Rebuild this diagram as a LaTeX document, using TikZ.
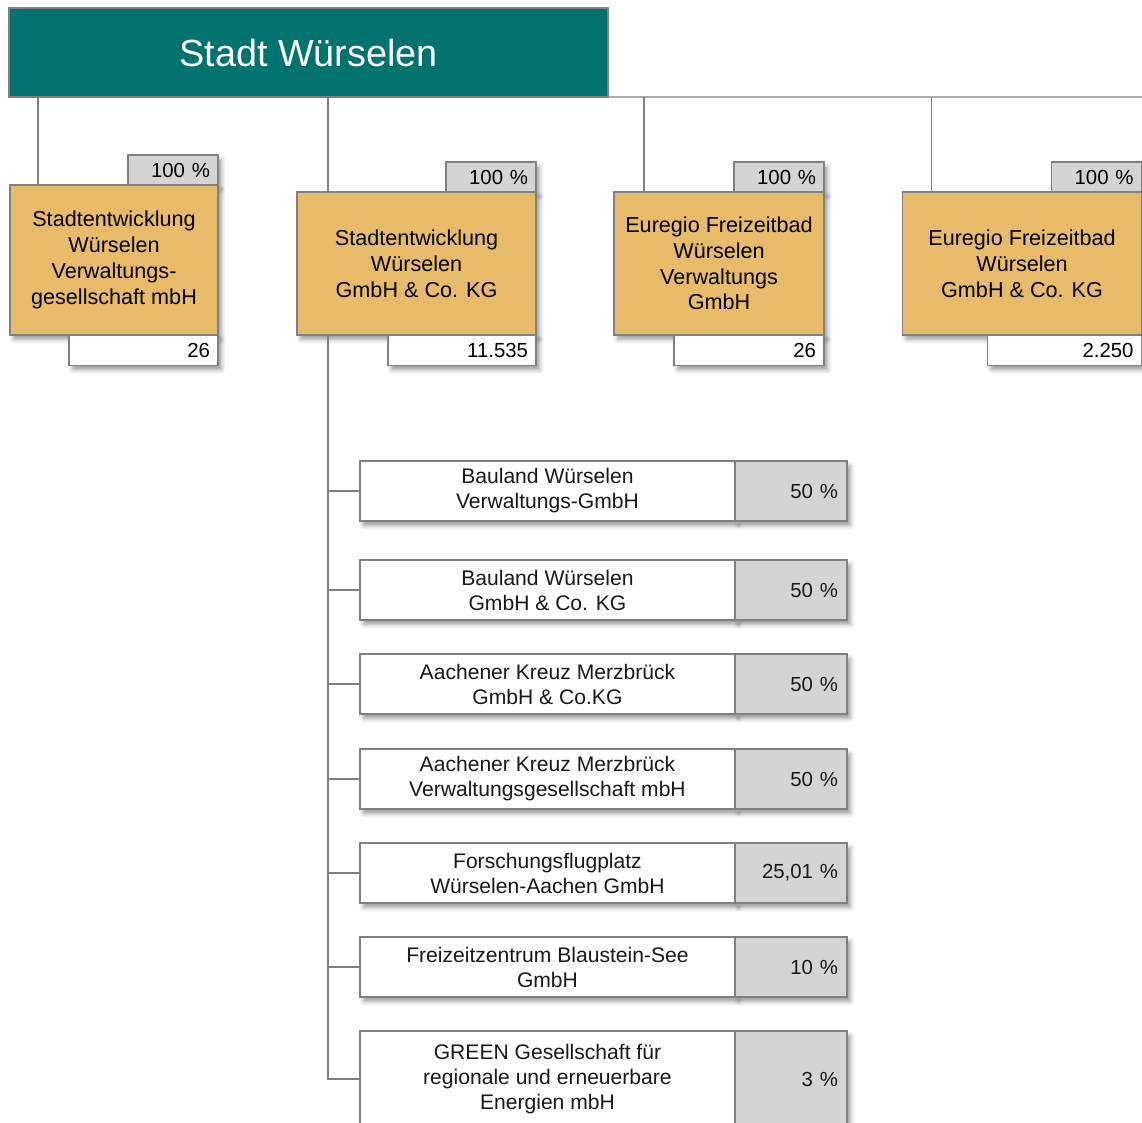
\documentclass[tikz,border=0pt]{standalone}
\usepackage{fontspec}
\setmainfont{Liberation Sans}
\usetikzlibrary{positioning, calc, shadows.blur}
\definecolor{city-teal}{RGB}{0,115,111}
\definecolor{firm-orange}{RGB}{232,187,106}
\definecolor{share-gray}{RGB}{212,212,212}
\definecolor{edge-gray}{RGB}{128,128,128}
\tikzset{
    boxshadow/.style = {blur shadow={shadow xshift=2pt, shadow yshift=-2.5pt,
        shadow blur radius=2.5pt, shadow opacity=40}},
    city/.style = {draw=edge-gray, line width=0.7pt, fill=city-teal, text=white,
        minimum width=11.98cm, minimum height=1.78cm, inner sep=0pt, outer sep=0pt,
        font=\fontsize{21.5}{26}\selectfont},
    firm/.style = {draw=edge-gray, line width=0.7pt, fill=firm-orange, align=center,
        inner sep=0pt, outer sep=0pt, text=black, font=\fontsize{12.3}{14.7}\selectfont, boxshadow},
    share/.style = {draw=edge-gray, line width=0.7pt, fill=share-gray, align=right,
        text width=1.48cm, inner xsep=0.16cm, inner ysep=0pt, outer sep=0pt, minimum height=0.6cm,
        text=black, font=\fontsize{11.6}{14}\selectfont, boxshadow},
    stock/.style = {draw=edge-gray, line width=0.7pt, fill=white, align=right,
        text width=#1, inner xsep=0.16cm, inner ysep=0pt, outer sep=0pt, minimum height=0.61cm,
        text=black, font=\fontsize{11.6}{14}\selectfont, boxshadow},
    holding/.style = {draw=edge-gray, line width=0.7pt, fill=white, align=center,
        minimum width=7.5cm, minimum height=#1, inner sep=0pt, outer sep=0pt,
        text=black!90, font=\fontsize{12}{14.2}\selectfont, boxshadow},
    holding/.default = 1.2cm,
    quota/.style = {draw=edge-gray, line width=0.7pt, fill=share-gray, align=right,
        text width=1.88cm, inner xsep=0.18cm, inner ysep=0pt, outer sep=0pt, minimum height=#1,
        text=black!90, font=\fontsize{11.6}{14}\selectfont, boxshadow},
    quota/.default = 1.2cm,
    link/.style = {draw=edge-gray, line width=0.8pt},
}

\begin{document}
\begin{tikzpicture}[x=0.02cm, y=-0.02cm]
    \useasboundingbox (0,0) rectangle (1142,1122);

    % top of the tree
    \node[city] (city) at (308.5,52.5) {Stadt Würselen};
    \coordinate (bus) at (1142,97);

    % direct holdings
    \node[share, anchor=north east] (p1) at (218,155) {100 \%};
    \node[firm, minimum width=4.16cm, minimum height=3cm, anchor=north east] (f1) at (p1.south east)
        {Stadtentwicklung\\Würselen\\Verwaltungs-\\gesellschaft mbH};
    \node[stock=2.66cm, anchor=north east] (v1) at (f1.south east) {26};

    \node[share, anchor=north east] (p2) at (536,162) {100 \%};
    \node[firm, minimum width=4.78cm, minimum height=2.86cm, anchor=north east] (f2) at (p2.south east)
        {Stadtentwicklung\\Würselen\\GmbH \& Co. KG};
    \node[stock=2.64cm, anchor=north east] (v2) at (f2.south east) {11.535};

    \node[share, anchor=north east] (p3) at (824,162) {100 \%};
    \node[firm, minimum width=4.2cm, minimum height=2.86cm, anchor=north east] (f3) at (p3.south east)
        {Euregio Freizeitbad\\Würselen\\Verwaltungs\\GmbH};
    \node[stock=2.68cm, anchor=north east] (v3) at (f3.south east) {26};

    \node[share, anchor=north east] (p4) at (1141.5,162) {100 \%};
    \node[firm, minimum width=4.78cm, minimum height=2.86cm, anchor=north east] (f4) at (p4.south east)
        {Euregio Freizeitbad\\Würselen\\GmbH \& Co. KG};
    \node[stock=2.76cm, anchor=north east] (v4) at (f4.south east) {2.250};

    \draw[link] (city.south east) -- (bus);
    \coordinate (d1) at ($(f1.north west)+(28,0)$);
    \coordinate (d2) at ($(f2.north west)+(31,0)$);
    \coordinate (d3) at ($(f3.north west)+(30,0)$);
    \coordinate (d4) at ($(f4.north west)+(29,0)$);
    \foreach \d in {d1,d2,d3,d4}
        \draw[link] (\d) -- (\d |- city.south);

    % holdings of the GmbH & Co. KG
    \node[holding, anchor=north west] (h1) at (360,461) {Bauland Würselen\\Verwaltungs-GmbH};
    \node[quota, right=0pt of h1] (q1) {50 \%};
    \node[holding, anchor=north west] (h2) at (360,560) {Bauland Würselen\\GmbH \& Co. KG};
    \node[quota, right=0pt of h2] (q2) {50 \%};
    \node[holding, anchor=north west] (h3) at (360,654) {Aachener Kreuz Merzbrück\\GmbH \& Co.KG};
    \node[quota, right=0pt of h3] (q3) {50 \%};
    \node[holding, anchor=north west] (h4) at (360,749) {Aachener Kreuz Merzbrück\\Verwaltungsgesellschaft mbH};
    \node[quota, right=0pt of h4] (q4) {50 \%};
    \node[holding, anchor=north west] (h5) at (360,843) {Forschungsflugplatz\\Würselen-Aachen GmbH};
    \node[quota, right=0pt of h5] (q5) {25,01 \%};
    \node[holding, anchor=north west] (h6) at (360,937) {Freizeitzentrum Blaustein-See\\GmbH};
    \node[quota, right=0pt of h6] (q6) {10 \%};
    \node[holding=1.92cm, anchor=north west] (h7) at (360,1031)
        {GREEN Gesellschaft für\\regionale und erneuerbare\\Energien mbH};
    \node[quota=1.92cm, right=0pt of h7] (q7) {3 \%};

    \coordinate (trunk) at ($(f2.south west)+(31,0)$);
    \draw[link] (trunk) |- (h7.west);
    \foreach \h in {h1,h2,h3,h4,h5,h6}
        \draw[link] (\h.west) -- (\h.west -| trunk);
\end{tikzpicture}
\end{document}
